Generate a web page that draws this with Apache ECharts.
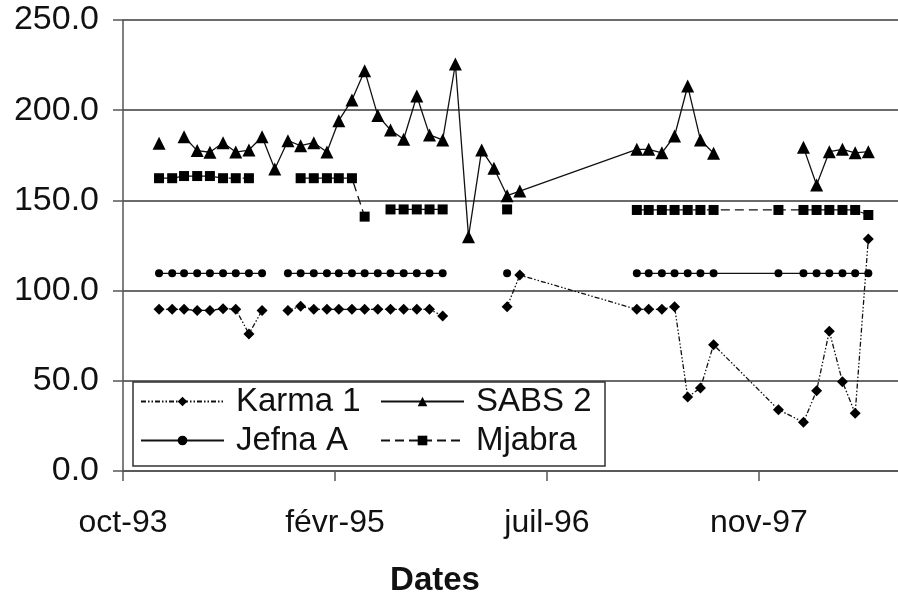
<!DOCTYPE html>
<html>
<head>
<meta charset="utf-8">
<script src="https://cdn.jsdelivr.net/npm/echarts@6/dist/echarts.min.js"></script>
<style>html,body{margin:0;padding:0;background:#fff}#c{width:898px;height:601px}</style>
</head>
<body>
<div id="c"></div>
<script>
// Sample dates (month of measurement)
const dates = ['1994-01','1994-02','1994-03','1994-04','1994-05','1994-06','1994-07','1994-08','1994-09','1994-10',
  '1994-11','1994-12','1995-01','1995-02','1995-03','1995-04','1995-05','1995-06','1995-07','1995-08',
  '1995-09','1995-10','1995-11','1995-12','1996-01','1996-02','1996-03','1996-04','1996-05','1997-02',
  '1997-03','1997-04','1997-05','1997-06','1997-07','1997-08','1998-01','1998-03','1998-04','1998-05',
  '1998-06','1998-07','1998-08'];
const karma1 = [89.6,89.6,89.6,89.0,89.0,90.0,89.7,76.0,89.0,null,
  89.0,91.3,89.6,89.6,89.6,89.6,89.6,89.6,89.6,89.6,
  89.6,89.6,85.9,null,null,null,null,91.1,108.6,89.6,
  89.6,89.6,91.1,41.0,46.0,70.0,34.0,27.0,44.5,77.5,
  49.5,32.0,128.6];
const sabs2 = [181.7,null,185.3,177.6,176.7,182.0,176.8,177.9,185.3,167.4,
  183.1,180.3,182.0,176.8,194.2,205.7,221.9,197.0,189.0,183.9,
  207.9,186.3,183.5,225.6,129.9,177.9,167.8,152.6,155.2,178.3,
  178.3,176.4,185.7,213.4,183.5,176.1,null,179.4,158.5,177.0,
  178.3,176.4,177.0];
const jefnaA = [109.6,109.6,109.6,109.6,109.6,109.6,109.6,109.6,109.6,null,
  109.6,109.6,109.6,109.6,109.6,109.6,109.6,109.6,109.6,109.6,
  109.6,109.6,109.6,null,null,null,null,109.6,null,109.6,
  109.6,109.6,109.6,109.6,109.6,109.6,109.6,109.6,109.6,109.6,
  109.6,109.6,109.6];
const mjabra = [162.3,162.3,163.5,163.5,163.5,162.3,162.3,162.3,null,null,
  null,162.3,162.3,162.3,162.3,162.3,141.0,null,145.0,145.0,
  145.0,145.0,145.0,null,null,null,null,145.0,null,144.7,
  144.7,144.7,144.7,144.7,144.7,144.7,144.7,144.7,144.7,144.7,
  144.7,144.7,141.9];
const yTicks = [0, 50, 100, 150, 200, 250];
const monthNames = ['janv','févr','mars','avr','mai','juin','juil','août','sept','oct','nov','déc'];

// Excel-style date serials
const EPOCH = Date.UTC(1899, 11, 30);
function toSerial(s) {
  const p = s.split('-');
  return Math.round((Date.UTC(+p[0], +p[1] - 1, 1) - EPOCH) / 86400000);
}
function serialLabel(v) {
  const d = new Date(EPOCH + v * 86400000);
  return monthNames[d.getUTCMonth()] + '-' + String(d.getUTCFullYear()).slice(2);
}
const X_MIN = 34250, X_STEP = 500, X_MAX = 36078;
function build(arr) {
  return dates.map((d, i) => [toSerial(d), arr[i] == null ? '-' : arr[i]]);
}

const FONT = '"Liberation Sans", Arial, sans-serif';
const chart = echarts.init(document.getElementById('c'));
const baseLine = { color: '#111', width: 1.3 };
const legendText = { fontFamily: FONT, fontSize: 33, color: '#111', lineHeight: 31, padding: [0, 0, 0, 7] };
chart.setOption({
  animation: false,
  backgroundColor: '#fff',
  grid: { left: 123, right: 0, top: 20, bottom: 130 },
  xAxis: {
    type: 'value', min: X_MIN, max: X_MAX, interval: X_STEP,
    axisLine: { lineStyle: { color: '#555', width: 1.5 } },
    axisTick: { show: true, length: 10, lineStyle: { color: '#555', width: 1.5 } },
    axisLabel: {
      margin: 36, fontFamily: FONT, fontSize: 32, color: '#111', showMaxLabel: false,
      formatter: v => ((v - X_MIN) % X_STEP === 0 ? serialLabel(v) : '')
    },
    splitLine: { show: false }
  },
  yAxis: {
    type: 'value', min: yTicks[0], max: yTicks[yTicks.length - 1], interval: 50,
    axisLine: { show: true, lineStyle: { color: '#555', width: 1.5 } },
    axisTick: { show: true, length: 10, lineStyle: { color: '#555', width: 1.5 } },
    axisLabel: { margin: 24, fontFamily: FONT, fontSize: 34, color: '#111', formatter: v => v.toFixed(1) },
    splitLine: { show: true, lineStyle: { color: '#3a3a3a', width: 1.6 } }
  },
  graphic: [
    { type: 'rect', z: 3, shape: { x: 133, y: 382, width: 472, height: 84 },
      style: { fill: '#fff', stroke: '#333', lineWidth: 1.5 } },
    { type: 'text', z: 5, x: 435, y: 581,
      style: { text: 'Dates', fontFamily: FONT, fontSize: 33, fontWeight: 'bold', fill: '#111',
               textAlign: 'center', textVerticalAlign: 'middle' } }
  ],
  legend: [
    { data: ['Karma 1', 'Jefna A'], orient: 'vertical', left: 140, top: 385, z: 5, padding: 0,
      itemWidth: 83, itemHeight: 12, itemGap: 6, textStyle: legendText },
    { data: ['SABS 2', 'Mjabra'], orient: 'vertical', left: 380, top: 385, z: 5, padding: 0,
      itemWidth: 83, itemHeight: 12, itemGap: 6, textStyle: legendText }
  ],
  series: [
    { name: 'Karma 1', type: 'line', data: build(karma1), symbol: 'diamond', symbolSize: 11,
      itemStyle: { color: '#000' }, lineStyle: { color: '#111', width: 1.3, type: [5, 2, 1.5, 2, 1.5, 2] } },
    { name: 'SABS 2', type: 'line', data: build(sabs2), symbol: 'triangle', symbolSize: 13,
      itemStyle: { color: '#000' }, lineStyle: Object.assign({ type: 'solid' }, baseLine) },
    { name: 'Jefna A', type: 'line', data: build(jefnaA), symbol: 'circle', symbolSize: 8,
      itemStyle: { color: '#000' }, lineStyle: Object.assign({ type: 'solid' }, baseLine) },
    { name: 'Mjabra', type: 'line', data: build(mjabra), symbol: 'rect', symbolSize: 10,
      itemStyle: { color: '#000' }, lineStyle: { color: '#111', width: 1.3, type: [9, 5] } }
  ]
});
</script>
</body>
</html>
